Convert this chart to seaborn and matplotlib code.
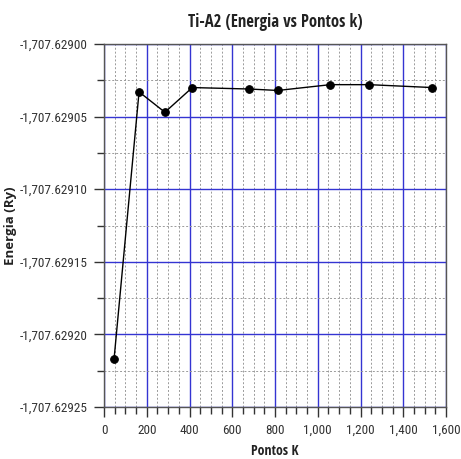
import matplotlib
matplotlib.use("Agg")
import matplotlib.pyplot as plt
from matplotlib.ticker import FuncFormatter, FixedLocator
import seaborn as sns
import pandas as pd

# k-point convergence for Ti-A2
pontos_k = [47, 164, 285, 413, 680, 813, 1059, 1240, 1536]
energia = [-1707.629217, -1707.629033, -1707.629047, -1707.629030, -1707.629031,
           -1707.629032, -1707.629028, -1707.629028, -1707.629030]

titulo = "Ti-A2 (Energia vs Pontos k)"
rotulo_x = "Pontos K"
rotulo_y = "Energia (Ry)"

ticks_x = [0, 200, 400, 600, 800, 1000, 1200, 1400, 1600]
ticks_x_menores = [50, 100, 150, 250, 300, 350, 450, 500, 550, 650, 700, 750, 850, 900, 950,
                   1050, 1100, 1150, 1250, 1300, 1350, 1450, 1500, 1550]
ticks_y = [-1707.62925, -1707.62920, -1707.62915, -1707.62910, -1707.62905, -1707.62900]
ticks_y_menores = [-1707.629225, -1707.629175, -1707.629125, -1707.629075, -1707.629025]

df = pd.DataFrame({"k": pontos_k, "E": energia})

sns.set_theme(style="white")
fonte_titulo = ["Open Sans Condensed", "Open Sans", "DejaVu Sans"]
fonte_ticks = ["Roboto Condensed", "Open Sans", "DejaVu Sans"]
plt.rcParams["font.family"] = ["Open Sans", "DejaVu Sans"]

fig = plt.figure(figsize=(4.61, 4.59), dpi=100)
ax = fig.add_axes([104 / 461, 1 - 407 / 459, (446 - 104) / 461, (407 - 44) / 459])

sns.lineplot(data=df, x="k", y="E", ax=ax, color="black", linewidth=1.0,
             marker="o", markersize=5.5, markeredgecolor="black", zorder=5)

ax.set_xlim(0, 1600)
ax.set_ylim(-1707.62925, -1707.62900)
ax.xaxis.set_major_locator(FixedLocator(ticks_x))
ax.xaxis.set_minor_locator(FixedLocator(ticks_x_menores))
ax.yaxis.set_major_locator(FixedLocator(ticks_y))
ax.yaxis.set_minor_locator(FixedLocator(ticks_y_menores))

ax.xaxis.set_major_formatter(FuncFormatter(lambda v, p: f"{v:,.0f}"))
ax.yaxis.set_major_formatter(FuncFormatter(lambda v, p: f"{v:,.5f}"))

ax.grid(which="major", color="#3434d2", linewidth=1.0, linestyle="-")
ax.grid(which="minor", color="#9a9a9a", linewidth=0.7, linestyle=(0, (2, 2)))
ax.set_axisbelow(True)

for s in ax.spines.values():
    s.set_color("#555555")
    s.set_linewidth(1.0)

ax.tick_params(which="major", direction="out", length=7, width=1.0, color="#333333",
               labelsize=9.5, labelcolor="#333333", left=True, bottom=True, pad=5)
ax.tick_params(which="minor", direction="out", length=5, width=1.0, color="#333333",
               left=True, bottom=True)
for lbl in ax.get_xticklabels() + ax.get_yticklabels():
    lbl.set_family(fonte_ticks)

ax.set_title(titulo, fontsize=12, fontweight="bold", color="#222222", pad=12,
             family=fonte_titulo)
ax.set_xlabel(rotulo_x, fontsize=10, fontweight="bold", color="#222222", labelpad=5,
              family=fonte_titulo)
ax.set_ylabel(rotulo_y, fontsize=9.5, fontweight="bold", color="#222222", labelpad=2)

fig.savefig("out.png", dpi=100)
